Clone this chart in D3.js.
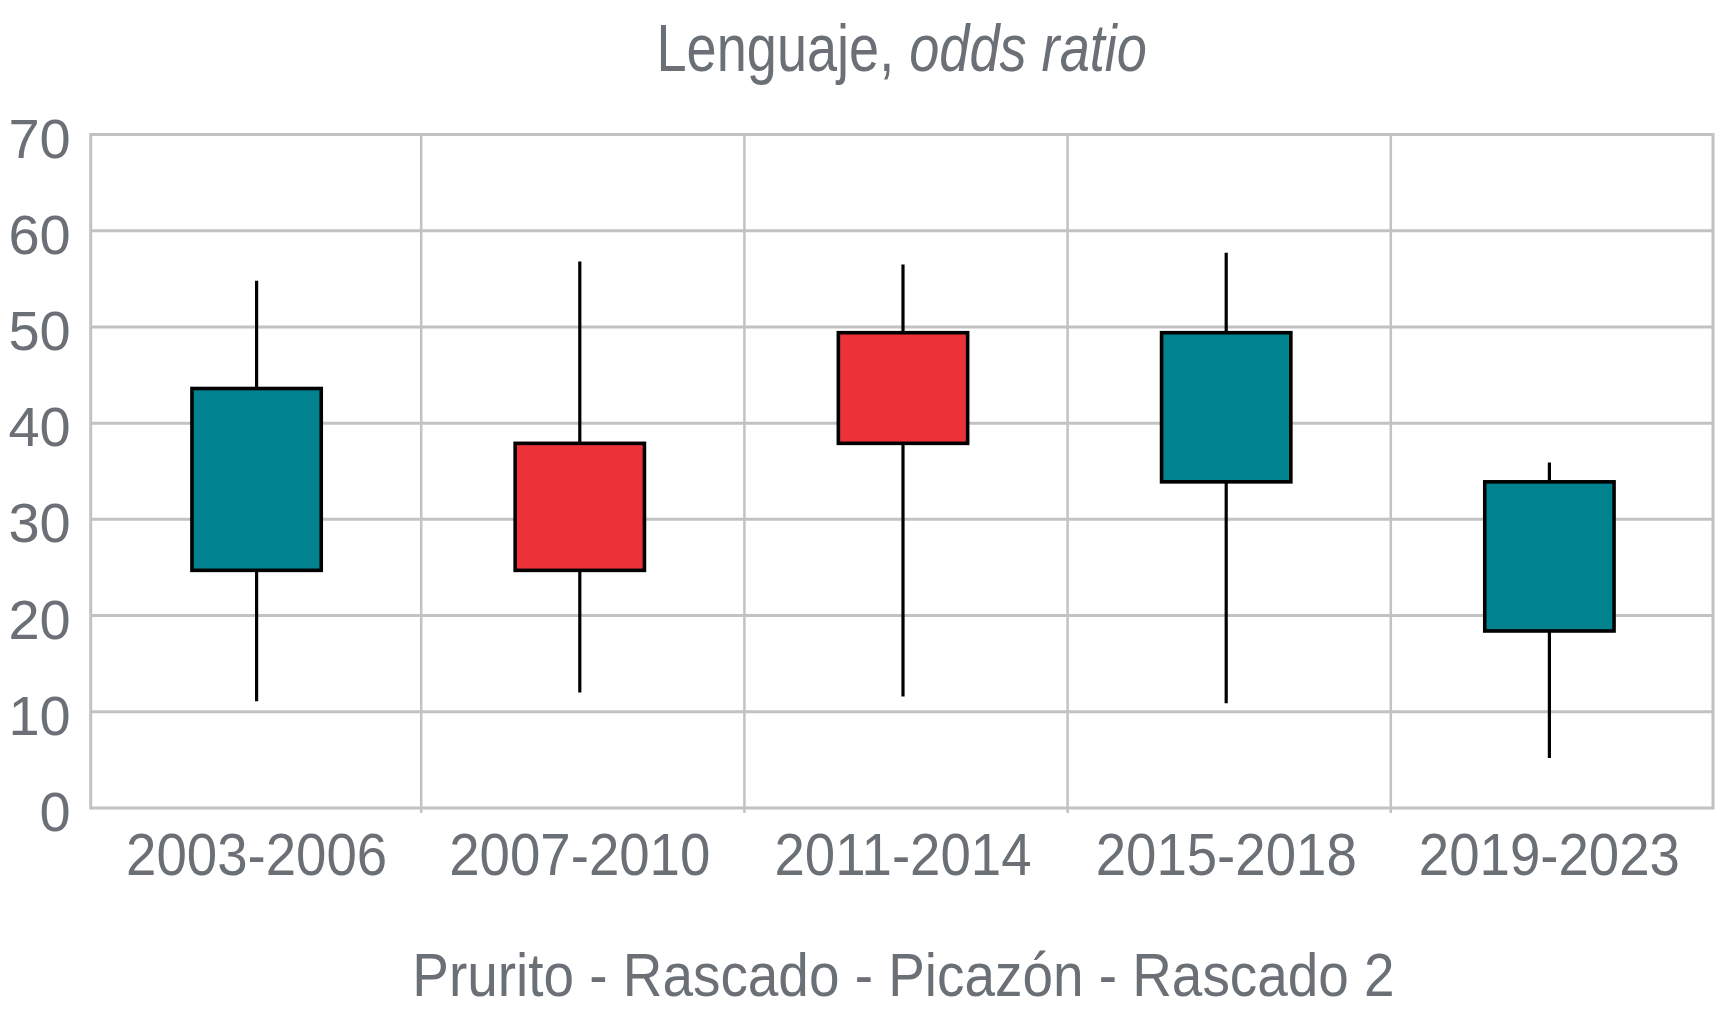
<!DOCTYPE html>
<html>
<head>
<meta charset="utf-8">
<script src="https://cdn.jsdelivr.net/npm/d3@7"></script>
<style>
  html, body { margin: 0; padding: 0; background: #ffffff; }
  svg { display: block; }
  text { font-family: "Liberation Sans", Arial, Helvetica, sans-serif; fill: #6b7076; }
</style>
</head>
<body>
<svg id="chart" width="1717" height="1024"></svg>
<script>
// ---- data ----
const categories = ["2003-2006", "2007-2010", "2011-2014", "2015-2018", "2019-2023"];
const openValues  = [43.6, 24.7, 37.9, 49.4, 33.9];
const closeValues = [24.7, 37.9, 49.4, 33.9, 18.4];
const highValues  = [54.8, 56.8, 56.5, 57.7, 35.9];
const lowValues   = [11.1, 12.0, 11.6, 10.9, 5.2];
const yTicks = [0, 10, 20, 30, 40, 50, 60, 70];
const titleMain = "Lenguaje, ";
const titleItalic = "odds ratio";
const xTitle = "Prurito - Rascado - Picazón - Rascado 2";

// ---- layout ----
const plot = { left: 90.7, right: 1713, top: 134.5, bottom: 808 };
const upColor = "#ec3238", downColor = "#00828f";
const gridColor = "#c2c2c2";

const svg = d3.select("#chart");

const x = d3.scaleBand().domain(categories).range([95, 1711]).padding(0);
const y = d3.scaleLinear().domain([0, 70]).range([plot.bottom, plot.top]);

const data = categories.map((c, i) => ({
  cat: c, open: openValues[i], close: closeValues[i], high: highValues[i], low: lowValues[i]
}));

// horizontal gridlines
svg.append("g").selectAll("line").data(yTicks).join("line")
  .attr("x1", plot.left).attr("x2", plot.right)
  .attr("y1", d => y(d)).attr("y2", d => y(d))
  .attr("stroke", gridColor).attr("stroke-width", 3);

// vertical gridlines (category boundaries), extending a little below the axis
const bounds = categories.slice(1).map(c => x(c));
svg.append("g").selectAll("line").data(bounds).join("line")
  .attr("x1", d => d + 3).attr("x2", d => d + 3)
  .attr("y1", plot.top).attr("y2", plot.bottom + 5)
  .attr("stroke", gridColor).attr("stroke-width", 2.5);

// frame left/right
svg.append("line").attr("x1", plot.left).attr("x2", plot.left)
  .attr("y1", plot.top - 1.5).attr("y2", plot.bottom + 1.5)
  .attr("stroke", gridColor).attr("stroke-width", 3);
svg.append("line").attr("x1", plot.right).attr("x2", plot.right)
  .attr("y1", plot.top - 1.5).attr("y2", plot.bottom + 1.5)
  .attr("stroke", gridColor).attr("stroke-width", 3);

// y axis labels
const yAxis = d3.axisLeft(y).tickValues(yTicks).tickSize(0).tickPadding(20).tickFormat(d3.format("d"));
const gy = svg.append("g").attr("transform", `translate(${plot.left},0)`).call(yAxis);
gy.select(".domain").remove();
gy.selectAll("text")
  .attr("dy", null).attr("y", 22.5)
  .style("font-size", "56px").attr("fill", "#6b7076");

// x axis labels
const xAxis = d3.axisBottom(x).tickSize(0).tickPadding(0);
const gx = svg.append("g").attr("transform", `translate(0,${plot.bottom})`).call(xAxis);
gx.select(".domain").remove();
gx.selectAll("text")
  .attr("dy", null).attr("y", 67)
  .attr("transform", "scale(0.91,1)")
  .style("font-size", "60px").attr("fill", "#6b7076");

// candlesticks
const bw = x.bandwidth() * 0.4;
const cs = svg.append("g").selectAll("g").data(data).join("g")
  .attr("transform", d => `translate(${x(d.cat) + x.bandwidth() / 2},0)`);
cs.append("line")
  .attr("x1", 0).attr("x2", 0)
  .attr("y1", d => y(d.high)).attr("y2", d => y(d.low))
  .attr("stroke", "#000").attr("stroke-width", 3.2);
cs.append("rect")
  .attr("x", -bw / 2).attr("width", bw)
  .attr("y", d => y(Math.max(d.open, d.close)))
  .attr("height", d => Math.abs(y(d.open) - y(d.close)))
  .attr("fill", d => d.close > d.open ? upColor : downColor)
  .attr("stroke", "#000").attr("stroke-width", 3.6);

// title
const t = svg.append("text")
  .attr("transform", "translate(901.7,71) scale(0.82,1)")
  .attr("text-anchor", "middle")
  .style("font-size", "66px");
t.append("tspan").text(titleMain);
t.append("tspan").style("font-style", "italic").text(titleItalic);

// bottom label
svg.append("text")
  .attr("transform", "translate(903.5,995.7) scale(0.9,1)")
  .attr("text-anchor", "middle")
  .style("font-size", "61px")
  .text(xTitle);
</script>
</body>
</html>
